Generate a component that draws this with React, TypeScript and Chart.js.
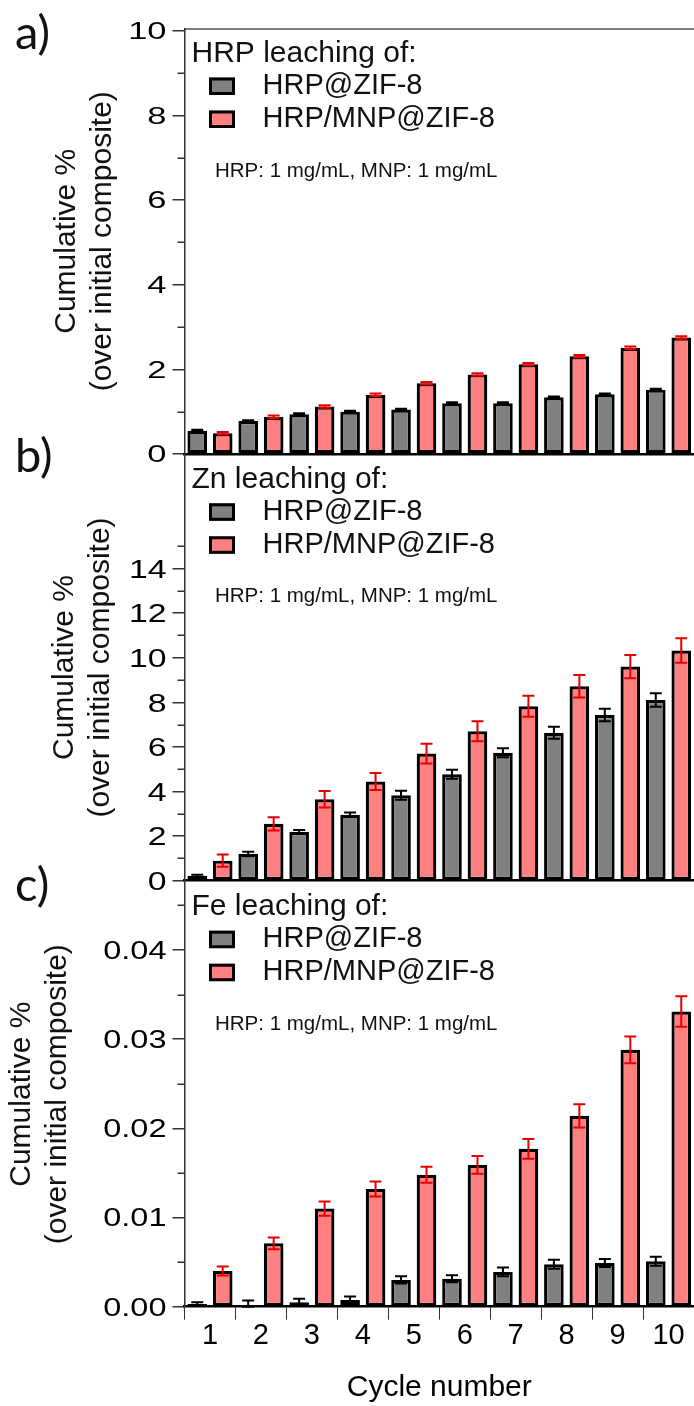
import React, { useEffect, useRef } from 'react';
import { Chart, registerables } from 'chart.js';

Chart.register(...registerables);

// ---------------- data ----------------
const cycleLabels = ['1', '2', '3', '4', '5', '6', '7', '8', '9', '10'];
const seriesNames = ['HRP@ZIF-8', 'HRP/MNP@ZIF-8'];

// a) HRP leaching
const hrpZifA = [0.55, 0.78, 0.94, 1.0, 1.05, 1.2, 1.2, 1.34, 1.41, 1.52];
const hrpZifAErr = [0.02, 0.02, 0.02, 0.02, 0.02, 0.02, 0.02, 0.02, 0.02, 0.02];
const hrpMnpA = [0.49, 0.88, 1.12, 1.4, 1.67, 1.88, 2.12, 2.31, 2.51, 2.75];
const hrpMnpAErr = [0.03, 0.03, 0.03, 0.03, 0.03, 0.03, 0.03, 0.03, 0.03, 0.03];

// b) Zn leaching
const hrpZifB = [0.22, 1.2, 2.18, 2.96, 3.83, 4.77, 5.74, 6.63, 7.43, 8.1];
const hrpZifBErr = [0.05, 0.1, 0.09, 0.1, 0.2, 0.2, 0.2, 0.27, 0.28, 0.3];
const hrpMnpB = [0.9, 2.55, 3.65, 4.45, 5.7, 6.7, 7.82, 8.72, 9.6, 10.32];
const hrpMnpBErr = [0.28, 0.3, 0.37, 0.38, 0.44, 0.45, 0.47, 0.5, 0.52, 0.55];

// c) Fe leaching
const hrpZifC = [0.0003, 0.0002, 0.0005, 0.00075, 0.003, 0.00314, 0.0039, 0.00475, 0.0049, 0.0051];
const hrpZifCErr = [0.0002, 0.0005, 0.0004, 0.0004, 0.0004, 0.0004, 0.0005, 0.0005, 0.00045, 0.0005];
const hrpMnpC = [0.004, 0.0071, 0.011, 0.0132, 0.0148, 0.0159, 0.0177, 0.0214, 0.0288, 0.0331];
const hrpMnpCErr = [0.0005, 0.00065, 0.0008, 0.00085, 0.0009, 0.001, 0.0011, 0.0013, 0.0015, 0.0017];

// ticks
const ticksA = [0, 2, 4, 6, 8, 10];
const minorA = [1, 3, 5, 7, 9];
const ticksB = [0, 2, 4, 6, 8, 10, 12, 14];
const minorB = [1, 3, 5, 7, 9, 11, 13, 15];
const ticksC = [0, 0.01, 0.02, 0.03, 0.04];
const minorC = [0.005, 0.015, 0.025, 0.035, 0.045];

// text
const panelLetters = ['a)', 'b)', 'c)'];
const panelTitles = ['HRP leaching of:', 'Zn leaching of:', 'Fe leaching of:'];
const noteText = 'HRP: 1 mg/mL, MNP: 1 mg/mL';
const yTitle = ['Cumulative %', '(over initial composite)'];
const xTitle = 'Cycle number';

// ---------------- style ----------------
const SANS = "'Liberation Sans', Arial, sans-serif";
const NARROW = "'Liberation Sans Narrow', 'Liberation Sans', Arial, sans-serif";
const GRAY = '#808080';
const RED = '#FF8080';
const ERR_RED = '#E60000';
const AXIS = '#333333';
const AXIS_LEFT = 184.5;

const decoPlugin = {
  id: 'panelDeco',
  afterDatasetsDraw(chart: any) {
    const ctx = chart.ctx;
    const y = chart.scales.y;
    chart.data.datasets.forEach((ds: any, i: number) => {
      const meta = chart.getDatasetMeta(i);
      meta.data.forEach((el: any, j: number) => {
        const v = ds.data[j];
        const e = ds.errors[j];
        const x = el.x;
        const y1 = y.getPixelForValue(v + e);
        const y2 = y.getPixelForValue(Math.max(0, v - e));
        ctx.save();
        ctx.strokeStyle = ds.errColor;
        ctx.lineWidth = 2;
        ctx.beginPath();
        ctx.moveTo(x, y1);
        ctx.lineTo(x, y2);
        ctx.moveTo(x - 6, y1);
        ctx.lineTo(x + 6, y1);
        ctx.moveTo(x - 6, y2);
        ctx.lineTo(x + 6, y2);
        ctx.stroke();
        ctx.restore();
      });
    });
  },
  afterDraw(chart: any) {
    const o = chart.options.plugins.panelDeco;
    const ctx = chart.ctx;
    const y = chart.scales.y;
    const { left: L, top: T, right: R } = chart.chartArea;
    ctx.save();
    // top border
    if (o.topBorder) {
      ctx.strokeStyle = '#000';
      ctx.lineWidth = 1.2;
      ctx.beginPath();
      ctx.moveTo(L, T + 0.5);
      ctx.lineTo(R, T + 0.5);
      ctx.stroke();
    }
    // minor ticks
    ctx.strokeStyle = AXIS;
    ctx.lineWidth = 1.5;
    o.minor.forEach((v: number) => {
      const py = Math.round(y.getPixelForValue(v)) + 0.25;
      ctx.beginPath();
      ctx.moveTo(L - 7, py);
      ctx.lineTo(L, py);
      ctx.stroke();
    });
    // y tick labels (horizontally stretched like the reference)
    ctx.fillStyle = '#000';
    ctx.textAlign = 'right';
    ctx.textBaseline = 'alphabetic';
    ctx.font = `${o.labelSize}px ${SANS}`;
    o.majors.forEach((v: number) => {
      const py = y.getPixelForValue(v);
      ctx.save();
      ctx.translate(L - 18, py + 0.358 * o.labelSize);
      ctx.scale(o.labelStretch, 1);
      ctx.fillText(v.toFixed(o.decimals), 0, 0);
      ctx.restore();
    });
    // in-panel legend
    ctx.textAlign = 'left';
    ctx.fillStyle = '#111';
    ctx.font = `30px ${SANS}`;
    ctx.fillText(o.title, L + 7, T + 33.5);
    const boxes = [
      { c: GRAY, t: seriesNames[0], y0: T + 49 },
      { c: RED, t: seriesNames[1], y0: T + 82 },
    ];
    boxes.forEach((b) => {
      ctx.fillStyle = b.c;
      ctx.fillRect(L + 24.5, b.y0, 26, 17.5);
      ctx.strokeStyle = '#000';
      ctx.lineWidth = 3;
      ctx.strokeRect(L + 26, b.y0 + 1.5, 23, 14.5);
      ctx.fillStyle = '#111';
      ctx.font = `29px ${SANS}`;
      ctx.fillText(b.t, L + 78, b.y0 + 16.5);
    });
    ctx.font = `20.5px ${SANS}`;
    ctx.fillText(noteText, L + 30.5, T + 148);
    ctx.restore();
  },
};

type Panel = {
  top: number;
  height: number;
  areaTop: number;
  areaBottom: number;
  max: number;
  majors: number[];
  minor: number[];
  decimals: number;
  labelSize: number;
  labelStretch: number;
  titlePad: number;
  showX: boolean;
  topBorder: boolean;
  title: string;
  gray: number[];
  grayErr: number[];
  red: number[];
  redErr: number[];
};

const panels: Panel[] = [
  {
    top: 0, height: 470, areaTop: 28.5, areaBottom: 454, max: 10.05,
    majors: ticksA, minor: minorA, decimals: 0, labelSize: 23, labelStretch: 1.5,
    titlePad: 49, showX: false, topBorder: true, title: panelTitles[0],
    gray: hrpZifA, grayErr: hrpZifAErr, red: hrpMnpA, redErr: hrpMnpAErr,
  },
  {
    top: 440, height: 460, areaTop: 14.3, areaBottom: 440.7, max: 19.12,
    majors: ticksB, minor: minorB, decimals: 0, labelSize: 26, labelStretch: 1.3,
    titlePad: 47, showX: false, topBorder: false, title: panelTitles[1],
    gray: hrpZifB, grayErr: hrpZifBErr, red: hrpMnpB, redErr: hrpMnpBErr,
  },
  {
    top: 870, height: 536, areaTop: 11.7, areaBottom: 436.7, max: 0.04765,
    majors: ticksC, minor: minorC, decimals: 2, labelSize: 25, labelStretch: 1.3,
    titlePad: 4, showX: true, topBorder: false, title: panelTitles[2],
    gray: hrpZifC, grayErr: hrpZifCErr, red: hrpMnpC, redErr: hrpMnpCErr,
  },
];

function makeChart(canvas: HTMLCanvasElement, p: Panel) {
  const xHeight = p.showX ? p.height - p.areaBottom : 0;
  const padBottom = p.showX ? 0 : p.height - p.areaBottom;
  return new Chart(canvas, {
    type: 'bar',
    data: {
      labels: cycleLabels,
      datasets: [
        {
          label: seriesNames[0], data: p.gray, backgroundColor: GRAY, borderColor: '#000',
          borderWidth: 3.2, borderSkipped: false, errors: p.grayErr, errColor: '#000',
        } as any,
        {
          label: seriesNames[1], data: p.red, backgroundColor: RED, borderColor: '#000',
          borderWidth: 3.2, borderSkipped: false, errors: p.redErr, errColor: ERR_RED,
        } as any,
      ],
    },
    options: {
      responsive: false,
      animation: false,
      devicePixelRatio: 1,
      layout: { padding: { left: 0, right: 0, top: p.areaTop, bottom: padBottom } },
      datasets: { bar: { categoryPercentage: 1, barPercentage: 0.77 } },
      plugins: {
        legend: { display: false },
        tooltip: { enabled: false },
        panelDeco: {
          topBorder: p.topBorder, minor: p.minor, majors: p.majors, decimals: p.decimals,
          labelSize: p.labelSize, labelStretch: p.labelStretch, title: p.title,
        },
      } as any,
      scales: {
        x: {
          offset: true,
          grid: {
            display: p.showX, offset: true, drawOnChartArea: false, drawTicks: true,
            tickLength: 13, color: AXIS, lineWidth: 1,
          },
          border: { display: true, color: '#000', width: 2.5 },
          ticks: {
            display: p.showX, autoSkip: false, maxRotation: 0, padding: 2, color: '#000',
            font: { family: NARROW, size: 29, lineHeight: 1 },
          },
          title: {
            display: p.showX, text: xTitle, color: '#000', padding: 0,
            font: { family: SANS, size: 30, lineHeight: 1.2 },
          },
          afterFit: (s: any) => { s.height = xHeight; },
        },
        y: {
          min: 0,
          max: p.max,
          afterBuildTicks: (s: any) => { s.ticks = p.majors.map((v) => ({ value: v })); },
          grid: {
            display: true, drawOnChartArea: false, drawTicks: true, tickLength: 12,
            color: AXIS, lineWidth: 1.5,
          },
          border: { display: true, color: AXIS, width: 1.5 },
          ticks: { display: false },
          title: {
            display: true, text: yTitle, color: '#111',
            padding: { top: p.titlePad, bottom: 0 },
            font: { family: SANS, size: 30, lineHeight: 1.2 },
          },
          afterFit: (s: any) => { s.width = AXIS_LEFT; },
        },
      },
    } as any,
    plugins: [decoPlugin],
  });
}

function PanelChart({ p }: { p: Panel }) {
  const ref = useRef<HTMLCanvasElement | null>(null);
  useEffect(() => {
    if (!ref.current) return;
    const c = makeChart(ref.current, p);
    return () => c.destroy();
  }, [p]);
  return (
    <canvas
      ref={ref}
      width={694}
      height={p.height}
      style={{ position: 'absolute', left: 0, top: p.top, width: 694, height: p.height }}
    />
  );
}

const letterTops = [8, 431, 860];

export default function App() {
  return (
    <div style={{ position: 'absolute', left: 0, top: 0, width: 694, height: 1406, background: '#fff', overflow: 'hidden' }}>
      {panels.map((p, i) => (
        <PanelChart key={i} p={p} />
      ))}
      {panelLetters.map((t, i) => (
        <div
          key={t}
          style={{
            position: 'absolute', left: 15, top: letterTops[i], fontFamily: 'Lato, "Open Sans", sans-serif',
            fontSize: 47, lineHeight: 1, color: '#111',
          }}
        >
          {t}
        </div>
      ))}
    </div>
  );
}
